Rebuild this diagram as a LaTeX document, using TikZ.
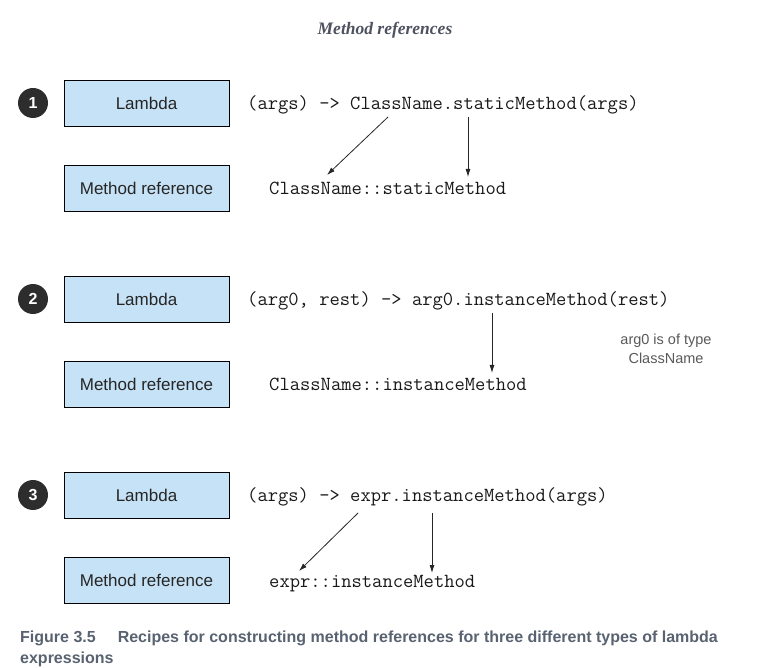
\documentclass[tikz,border=0pt]{standalone}
\usepackage{fontspec}
\setmainfont{Liberation Sans}
\setmonofont{Latin Modern Mono}
\newfontfamily\titlefont{Liberation Serif}
\usepackage{tikz}
\usetikzlibrary{arrows,arrows.meta,positioning,calc}
\usepackage{color}
\definecolor{boxblue}{RGB}{198,226,246}
\definecolor{capgray}{RGB}{88,98,112}
\definecolor{dotgray}{RGB}{45,45,45}
\definecolor{titlegray}{RGB}{78,82,96}
\tikzset{
  lam/.style={draw=black, line width=0.9pt, fill=boxblue, minimum width=165pt, minimum height=46pt, inner sep=0pt, text=black!85, font=\fontsize{17}{20}\selectfont},
  num/.style={circle, fill=dotgray, minimum size=30pt, inner sep=0pt, text=white, font=\bfseries\fontsize{16}{18}\selectfont},
  code/.style={anchor=base west, inner sep=0pt, text=black!90, font=\ttfamily\fontsize{20}{22}\selectfont},
  arr/.style={-{Latex[length=8pt,width=5pt]}, line width=0.8pt, black!85}
}

\begin{document}
\begin{tikzpicture}[x=1pt,y=-1pt]
    \useasboundingbox (0,0) rectangle (772,668);

    \node [anchor=base, text=titlegray, font=\titlefont\bfseries\itshape\fontsize{17.5}{20}\selectfont] (title) at (385,35) {Method references};

    % 1
    \node [num] (c1) at (33,103) {1};
    \node [lam] (l1) at (146.5,103.5) {Lambda};
    \node [lam] (m1) at (146.5,188.5) {Method reference};
    \node [code] (lc1) at (247,110) {(args) -> ClassName.staticMethod(args)};
    \node [code] (mc1) at (269,195) {ClassName::staticMethod};
    \coordinate (s1a) at (388,117);
    \coordinate (e1a) at (327,175);
    \coordinate (s1b) at (468,117);
    \coordinate (e1b) at (468,177);
    \draw [arr] (s1a) -- (e1a);
    \draw [arr] (s1b) -- (e1b);

    % 2
    \node [num] (c2) at (33,299) {2};
    \node [lam] (l2) at (146.5,299.5) {Lambda};
    \node [lam] (m2) at (146.5,384.5) {Method reference};
    \node [code] (lc2) at (247,306) {(arg0, rest) -> arg0.instanceMethod(rest)};
    \node [code] (mc2) at (269,391) {ClassName::instanceMethod};
    \node [align=center, text=black!65, font=\fontsize{14.5}{19}\selectfont] (note2) at (666,349) {arg0 is of type\\ClassName};
    \coordinate (s2) at (492,313);
    \coordinate (e2) at (492,373);
    \draw [arr] (s2) -- (e2);

    % 3
    \node [num] (c3) at (33,495) {3};
    \node [lam] (l3) at (146.5,495.5) {Lambda};
    \node [lam] (m3) at (146.5,580.5) {Method reference};
    \node [code] (lc3) at (247,502) {(args) -> expr.instanceMethod(args)};
    \node [code] (mc3) at (269,587) {expr::instanceMethod};
    \coordinate (s3a) at (358,513);
    \coordinate (e3a) at (299,571);
    \coordinate (s3b) at (432,513);
    \coordinate (e3b) at (432,573);
    \draw [arr] (s3a) -- (e3a);
    \draw [arr] (s3b) -- (e3b);

    % caption
    \node [anchor=base west, inner sep=0pt, align=left, text=capgray, font=\bfseries\fontsize{16}{20.5}\selectfont] (cap) at (20,663) {Figure 3.5\hspace{22pt}Recipes for constructing method references for three different types of lambda\\expressions};

\end{tikzpicture}
\end{document}
